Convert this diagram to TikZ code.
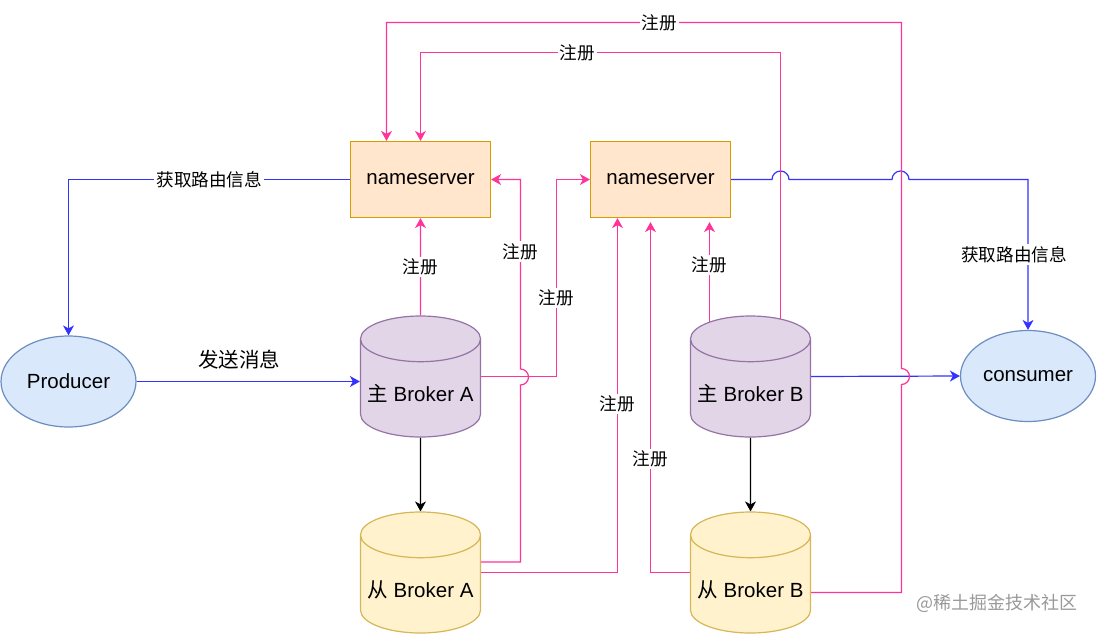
\documentclass[tikz,border=0pt]{standalone}
\usepackage{fontspec}
\setmainfont{Liberation Sans}
\newfontfamily\cjk{Noto Sans CJK SC}
\usetikzlibrary{shapes.geometric,arrows.meta,backgrounds}

\definecolor{regpink}{HTML}{FF3399}
\definecolor{getblue}{HTML}{3333FF}
\definecolor{nsfill}{HTML}{FFE6CC}
\definecolor{nsline}{HTML}{D79B00}
\definecolor{clfill}{HTML}{DAE8FC}
\definecolor{clline}{HTML}{6C8EBF}
\definecolor{mafill}{HTML}{E1D5E7}
\definecolor{maline}{HTML}{9673A6}
\definecolor{slfill}{HTML}{FFF2CC}
\definecolor{slline}{HTML}{D6B656}

\tikzset{
  main/.style={font=\fontsize{10.25}{12}\selectfont},
  nsbox/.style={main, draw=nsline, fill=nsfill, line width=0.6pt,
    minimum width=70pt, minimum height=38pt},
  client/.style={main, ellipse, draw=clline, fill=clfill, line width=0.6pt,
    inner sep=0pt, minimum width=67.5pt, minimum height=45.5pt},
  broker/.style={main, cylinder, shape border rotate=90, aspect=0.383,
    line width=0.6pt, minimum width=60pt, minimum height=60.5pt,
    anchor=shape center},
  master/.style={broker, draw=maline, fill=mafill},
  slave/.style={broker, draw=slline, fill=slfill},
  tip/.style={-{Stealth[length=5pt,width=5.5pt,inset=1.5pt]}},
  reg/.style={tip, draw=regpink, line width=0.6pt},
  route/.style={tip, draw=getblue, line width=0.6pt},
  lbl/.style={fill=white, inner sep=1pt, text=black,
    font=\cjk\fontsize{8.8}{10}\selectfont},
}

\begin{document}
\begin{tikzpicture}[x=0.5pt, y=-0.5pt]
\useasboundingbox (0,0) rectangle (1097,633);

% nodes
\node[nsbox] (ns1) at (420.5,179.5) {nameserver};
\node[nsbox] (ns2) at (660.5,179.5) {nameserver};
\node[client] (prod) at (68.5,381.5) {Producer};
\node[client] (cons) at (1028,376) {consumer};
\node[master] (ma) at (420.5,376.5) {{\cjk 主} Broker A};
\node[slave] (sa) at (420.5,572.5) {{\cjk 从} Broker A};
\node[master] (mb) at (750.5,376.5) {{\cjk 主} Broker B};
\node[slave] (sb) at (750.5,572.5) {{\cjk 从} Broker B};
\node[font=\cjk\fontsize{9}{10}\selectfont, text=black!40] (mark) at (997,603) {@稀土掘金技术社区};

\begin{scope}[on background layer]
% master to slave
\draw[tip, line width=0.6pt] (ma.south) -- (sa.north);
\draw[tip, line width=0.6pt] (mb.south) -- (sb.north);

% routes
\draw[route] (ns1.west) -- node[lbl]{获取路由信息} (68.5,179.5) -- (prod.north);
\draw[route] (prod.east) -- node[lbl, pos=0.46, above=5pt, fill=none,
  font=\cjk\fontsize{10.25}{12}\selectfont]{发送消息} (ma.west |- prod.east);
\draw[route] (ns2.east) -- (772,179.5) arc[start angle=180, end angle=0, radius=4.25pt]
  -- (892,179.5) arc[start angle=180, end angle=0, radius=4.25pt]
  -- (1028,179.5) -- node[lbl, xshift=-7pt]{获取路由信息} (cons.north);
\draw[route] (mb.east |- mb.shape center) -- (cons.west);

% register
\draw[reg] (ma.north) -- node[lbl]{注册} (ns1.south);
\draw[reg] ([yshift=5.25pt]sa.east |- sa.shape center) -- (520.5,562) -- (520.5,385)
  arc[start angle=-90, end angle=90, radius=4pt]
  -- node[lbl, pos=0.62]{注册} (520.5,179.5) -- (ns1.east);
\draw[reg] (ma.east |- ma.shape center) -- (556.5,376.5)
  -- node[lbl, pos=0.4]{注册} (556.5,179.5) -- (ns2.west);
\draw[reg] (sa.east |- sa.shape center) -- (617.5,572.5)
  -- node[lbl, pos=0.475]{注册} ([xshift=-21.5pt]ns2.south);
\draw[reg, shorten >=2pt] (sb.west |- sb.shape center) -- (650.5,572.5)
  -- node[lbl, pos=0.32]{注册} ([xshift=-5pt]ns2.south);
\draw[reg, shorten >=2pt] (709.5,330) -- node[lbl, pos=0.58]{注册} ([xshift=24.5pt]ns2.south);
\draw[reg] (780.5,330) -- (780.5,52.5) -- node[lbl, pos=0.565]{注册} (420.5,52.5) -- (ns1.north);
\draw[reg] (sb.east |- 0,592.5) -- (901.5,592.5) -- (901.5,384.5)
  arc[start angle=-90, end angle=90, radius=4pt]
  -- (901.5,22.5) -- node[lbl, pos=0.47]{注册} (386.5,22.5) -- ([xshift=-17pt]ns1.north);
\end{scope}

\end{tikzpicture}
\end{document}
